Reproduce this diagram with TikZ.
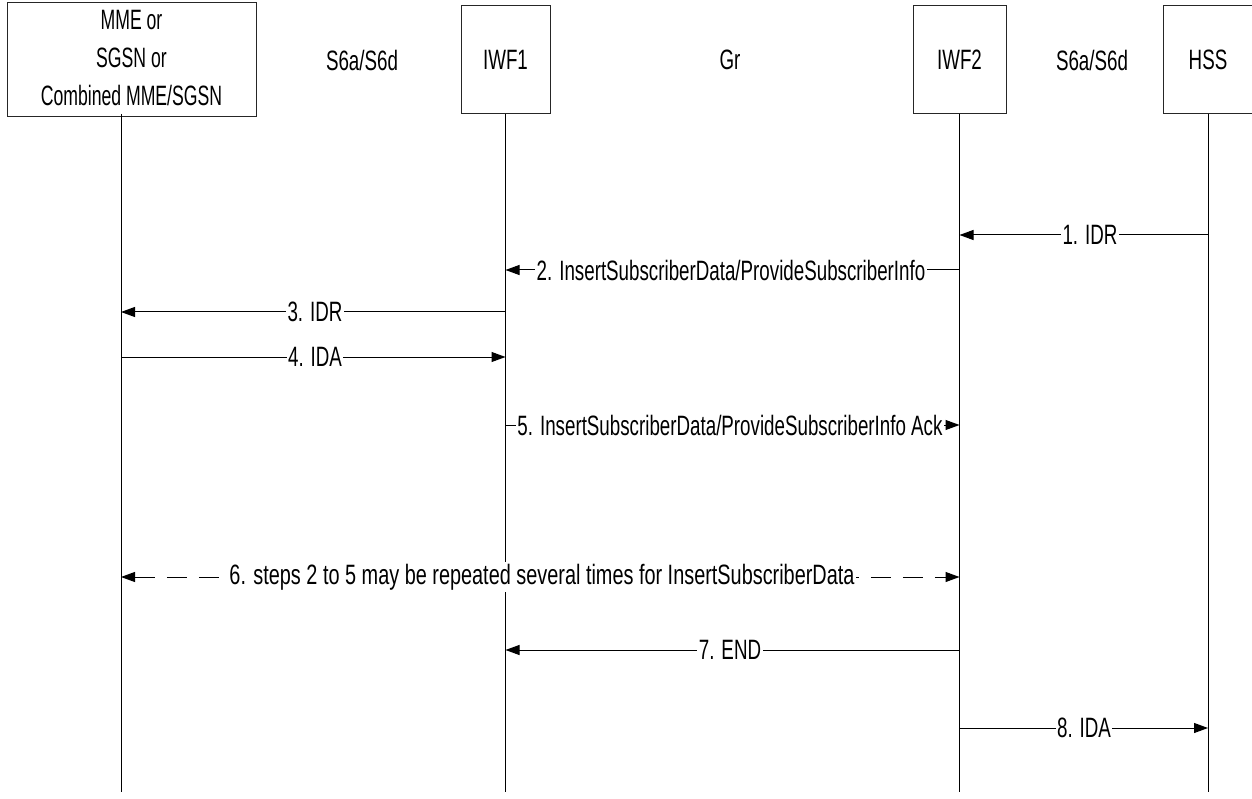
\documentclass[tikz,border=0pt]{standalone}
\usepackage{fontspec}
\setmainfont{Liberation Sans}
\usetikzlibrary{arrows.meta}
\newcommand\nt[2][0.67]{\scalebox{#1}[1]{#2}}
\begin{document}
\begin{tikzpicture}[x=1pt,y=-1pt,
  every node/.style={font=\fontsize{28}{38}\selectfont},
  ent/.style={draw=black!85,line width=1pt,minimum height=108pt,inner sep=0pt},
  life/.style={draw=black,line width=1pt},
  msg/.style={draw=black,line width=1pt,-{Triangle[length=14pt,width=10pt]}},
  dmsg/.style={draw=black,line width=1pt,dash pattern=on 20pt off 12pt,{Triangle[length=14pt,width=10pt]}-{Triangle[length=14pt,width=10pt]}},
  lbl/.style={fill=white,inner sep=1.5pt},
  iface/.style={inner sep=0pt}]
\useasboundingbox (0,0) rectangle (1252,799);
\fill[white] (0,0) rectangle (1252,799);
% entities
\node[ent,minimum width=249pt] (mme) at (131.5,60) {\nt[0.63]{\renewcommand\arraystretch{1}\begin{tabular}{@{}c@{}}MME or\\SGSN or\\Combined MME/SGSN\end{tabular}}};
\node[ent,minimum width=89pt] (iwf1) at (505.5,60) {\nt{IWF1}};
\node[ent,minimum width=93pt] (iwf2) at (959.5,60) {\nt{IWF2}};
\node[ent,minimum width=89pt] (hss) at (1208,60) {\nt{HSS}};
% interface labels
\node[iface] (if1) at (362,60) {\nt{S6a/S6d}};
\node[iface] (if2) at (730,60) {\nt{Gr}};
\node[iface] (if3) at (1092,60) {\nt{S6a/S6d}};
% lifelines
\coordinate (mmeT) at (121,114);
\coordinate (bot) at (0,792);
\draw[life] (mmeT) -- (mmeT |- bot);
\draw[life] (iwf1.south) -- (iwf1.south |- bot);
\draw[life] (iwf2.south) -- (iwf2.south |- bot);
\draw[life] (hss.south) -- (hss.south |- bot);
% message rows
\coordinate (r1) at (0,235);
\coordinate (r2) at (0,270);
\coordinate (r3) at (0,312);
\coordinate (r4) at (0,357);
\coordinate (r5) at (0,425);
\coordinate (r6) at (0,577);
\coordinate (r7) at (0,650);
\coordinate (r8) at (0,728);
% messages
\draw[msg] (hss |- r1) -- (iwf2 |- r1);
\node[lbl] (l1) at (1090,235) {\nt{1. IDR}};
\draw[msg] (iwf2 |- r2) -- (iwf1 |- r2);
\node[lbl] (l2) at (731,270) {\nt{2. InsertSubscriberData/ProvideSubscriberInfo}};
\draw[msg] (iwf1 |- r3) -- (mmeT |- r3);
\node[lbl] (l3) at (315,312) {\nt{3. IDR}};
\draw[msg] (mmeT |- r4) -- (iwf1 |- r4);
\node[lbl] (l4) at (315,357) {\nt{4. IDA}};
\draw[msg] (iwf1 |- r5) -- (iwf2 |- r5);
\node[lbl] (l5) at (730,425) {\nt{5. InsertSubscriberData/ProvideSubscriberInfo Ack}};
\draw[dmsg] (mmeT |- r6) -- (iwf2 |- r6);
\node[lbl] (l6) at (542,577) {\nt[0.71]{6. steps 2 to 5 may be repeated several times for InsertSubscriberData}};
\draw[msg] (iwf2 |- r7) -- (iwf1 |- r7);
\node[lbl] (l7) at (730,650) {\nt{7. END}};
\draw[msg] (iwf2 |- r8) -- (hss |- r8);
\node[lbl] (l8) at (1084,728) {\nt{8. IDA}};
\end{tikzpicture}
\end{document}
